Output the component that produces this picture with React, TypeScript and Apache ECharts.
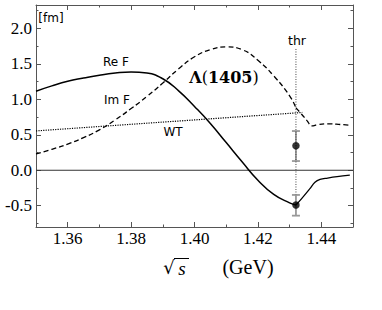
import React, { useEffect, useRef } from "react";
import * as echarts from "echarts";

// ---- data ----
const xMajor = [1.36, 1.38, 1.4, 1.42, 1.44];
const xMinor = [1.35, 1.37, 1.39, 1.41, 1.43, 1.45];
const yMajor = [-0.5, 0, 0.5, 1.0, 1.5, 2.0];
const yMinor = [-0.75, -0.25, 0.25, 0.75, 1.25, 1.75, 2.25];

// Re F (solid), below and above threshold
const reX1 = [1.35, 1.355, 1.36, 1.365, 1.37, 1.375, 1.38, 1.385, 1.39, 1.395, 1.4, 1.405, 1.41, 1.415, 1.42, 1.425, 1.43, 1.432];
const reY1 = [1.115, 1.19, 1.255, 1.3, 1.34, 1.37, 1.385, 1.37, 1.29, 1.12, 0.9, 0.66, 0.39, 0.12, -0.14, -0.34, -0.46, -0.49];
const reX2 = [1.432, 1.4338, 1.4364, 1.438, 1.4396, 1.442, 1.445, 1.449];
const reY2 = [-0.49, -0.4, -0.26, -0.17, -0.13, -0.11, -0.09, -0.07];

// Im F (dashed)
const imX1 = [1.35, 1.355, 1.36, 1.365, 1.37, 1.375, 1.38, 1.385, 1.39, 1.395, 1.4, 1.405, 1.41, 1.415, 1.42, 1.425, 1.43, 1.432];
const imY1 = [0.23, 0.295, 0.37, 0.46, 0.57, 0.71, 0.87, 1.04, 1.23, 1.43, 1.6, 1.7, 1.74, 1.7, 1.55, 1.33, 1.05, 0.88];
const imX2 = [1.432, 1.4338, 1.4355, 1.437, 1.439, 1.442, 1.446, 1.449];
const imY2 = [0.88, 0.79, 0.7, 0.625, 0.645, 0.655, 0.645, 0.635];

// WT (dotted)
const wtX = [1.35, 1.434];
const wtY = [0.555, 0.815];

// threshold marker
const thrX = 1.432;
const thrY = [1.71, -0.34];

// data points with error bars
const errX = [1.432, 1.432];
const errLow = [0.13, -0.64];
const errHigh = [0.553, -0.348];
const pointY = [0.345, -0.49];

const zeroX = [1.35, 1.45];
const X_MIN = 1.35;
const X_MAX = 1.45;
const Y_MIN = -0.8;
const Y_MAX = 2.33;

const zip = (xs: number[], ys: number[]) => xs.map((x, i) => [x, ys[i]]);

const FRAME = "#555";
const SERIF = "Liberation Serif";
const SANS = "DejaVu Sans";

export default function App() {
  const ref = useRef<HTMLDivElement>(null);
  useEffect(() => {
    if (!ref.current) return;
    const chart = echarts.init(ref.current, null, { renderer: "svg" });
    const xBase = { type: "value", min: X_MIN, max: X_MAX, splitLine: { show: false }, axisLabel: { show: false } };
    const yBase = { type: "value", min: Y_MIN, max: Y_MAX, splitLine: { show: false }, axisLabel: { show: false } };
    const mkX = (pos: string, line: boolean, len: number, vals: number[]) => ({
      ...xBase,
      position: pos,
      axisLine: { show: line, onZero: false, lineStyle: { color: FRAME, width: 1 } },
      axisTick: { show: true, inside: true, length: len, customValues: vals, lineStyle: { color: FRAME } },
    });
    const mkY = (pos: string, line: boolean, len: number, vals: number[]) => ({
      ...yBase,
      position: pos,
      axisLine: { show: line, onZero: false, lineStyle: { color: FRAME, width: 1 } },
      axisTick: { show: true, inside: true, length: len, customValues: vals, lineStyle: { color: FRAME } },
    });
    const option: any = {
      animation: false,
      backgroundColor: "#fff",
      grid: { left: 36, right: 29, top: 5, bottom: 83, containLabel: false },
      xAxis: [
        mkX("bottom", true, 5, xMajor),
        mkX("bottom", false, 2.5, xMinor),
        mkX("top", true, 5, xMajor),
        mkX("top", false, 2.5, xMinor),
      ],
      yAxis: [
        mkY("left", true, 5, yMajor),
        mkY("left", false, 2.5, yMinor),
        mkY("right", true, 5, yMajor),
        mkY("right", false, 2.5, yMinor),
      ],
      series: [
        {
          type: "line",
          data: zip(zeroX, [0, 0]),
          symbol: "none",
          lineStyle: { color: "#333", width: 1 },
          silent: true,
        },
        {
          type: "line",
          data: zip(wtX, wtY),
          symbol: "none",
          lineStyle: { color: "#000", width: 1.2, type: [1.2, 1.2] },
        },
        {
          type: "line",
          data: zip([thrX, thrX], thrY),
          symbol: "none",
          lineStyle: { color: "#444", width: 1, type: [1, 1.5] },
        },
        {
          type: "line",
          data: zip(reX1, reY1),
          symbol: "none",
          smooth: 0.5,
          lineStyle: { color: "#000", width: 1.5 },
        },
        {
          type: "line",
          data: zip(reX2, reY2),
          symbol: "none",
          smooth: 0.4,
          lineStyle: { color: "#000", width: 1.3 },
        },
        {
          type: "line",
          data: zip(imX1, imY1),
          symbol: "none",
          smooth: 0.5,
          lineStyle: { color: "#000", width: 1.3, type: [5, 3] },
        },
        {
          type: "line",
          data: zip(imX2, imY2),
          symbol: "none",
          smooth: 0.4,
          lineStyle: { color: "#000", width: 1.3, type: [5, 3] },
        },
        {
          type: "custom",
          data: errX.map((x, i) => [x, errLow[i], errHigh[i]]),
          encode: { x: 0, y: [1, 2] },
          renderItem: (_params: any, api: any) => {
            const x = api.value(0);
            const pLo = api.coord([x, api.value(1)]);
            const pHi = api.coord([x, api.value(2)]);
            const w = 4;
            const style = { stroke: "#999", lineWidth: 1.8 };
            return {
              type: "group",
              children: [
                { type: "line", shape: { x1: pLo[0], y1: pLo[1], x2: pHi[0], y2: pHi[1] }, style },
                { type: "line", shape: { x1: pLo[0] - w, y1: pLo[1], x2: pLo[0] + w, y2: pLo[1] }, style },
                { type: "line", shape: { x1: pHi[0] - w, y1: pHi[1], x2: pHi[0] + w, y2: pHi[1] }, style },
              ],
            };
          },
        },
        {
          type: "scatter",
          data: zip(errX, pointY),
          symbol: "circle",
          symbolSize: 7.5,
          itemStyle: { color: "#000" },
        },
      ],
    };
    chart.setOption(option);

    // tick labels placed through the axes' own scales
    const px = (v: number) => chart.convertToPixel({ xAxisIndex: 0 }, v) as number;
    const py = (v: number) => chart.convertToPixel({ yAxisIndex: 0 }, v) as number;
    const left = px(X_MIN);
    const bottom = py(Y_MIN);
    const tickFont = { fontFamily: SERIF, fontSize: 17, fill: "#000" };
    const xLabels = xMajor.map((v, i) => ({
      type: "text",
      id: "xl" + i,
      x: px(v),
      y: bottom + 11,
      style: { ...tickFont, text: v.toFixed(2), align: "center", verticalAlign: "middle" },
    }));
    const yLabels = yMajor.map((v, i) => ({
      type: "text",
      id: "yl" + i,
      x: left - 4,
      y: py(v),
      style: { ...tickFont, text: v.toFixed(1), align: "right", verticalAlign: "middle" },
    }));
    const txt = (id: string, x: number, y: number, text: string, extra: any = {}) => ({
      type: "text",
      id,
      x,
      y,
      style: { text, fontFamily: SANS, fontSize: 12, fill: "#000", align: "center", verticalAlign: "middle", ...extra },
    });
    chart.setOption({
      graphic: [
        ...xLabels,
        ...yLabels,
        txt("fm", 51, 18, "[fm]"),
        txt("re", 116, 61.5, "Re F"),
        txt("im", 117, 100, "Im F"),
        txt("wt", 173, 131.5, "WT"),
        txt("thr", 297, 40, "thr", { fontSize: 12.5 }),
        {
          type: "text",
          id: "lam",
          x: 224,
          y: 77,
          style: {
            text: "{b|Λ}{n|(}{b|1405}{n|)}",
            align: "center",
            verticalAlign: "middle",
            rich: {
              b: { fontFamily: "DejaVu Serif", fontWeight: "bold", fontSize: 16, fill: "#000" },
              n: { fontFamily: "DejaVu Serif", fontSize: 16, fill: "#000" },
            },
          },
        },
        txt("sqrt", 169, 267, "√", { fontFamily: "DejaVu Serif", fontSize: 18 }),
        txt("s", 182, 268, "s", { fontFamily: SERIF, fontStyle: "italic", fontSize: 19 }),
        { type: "line", id: "bar", shape: { x1: 174, y1: 258.5, x2: 189, y2: 258.5 }, style: { stroke: "#000", lineWidth: 1 } },
        txt("gev", 248, 267, "(GeV)", { fontFamily: SERIF, fontSize: 20 }),
      ],
    });
    return () => chart.dispose();
  }, []);
  return (
    <div
      ref={ref}
      style={{ position: "fixed", left: 0, top: 0, width: 382, height: 310, background: "#fff" }}
    />
  );
}
